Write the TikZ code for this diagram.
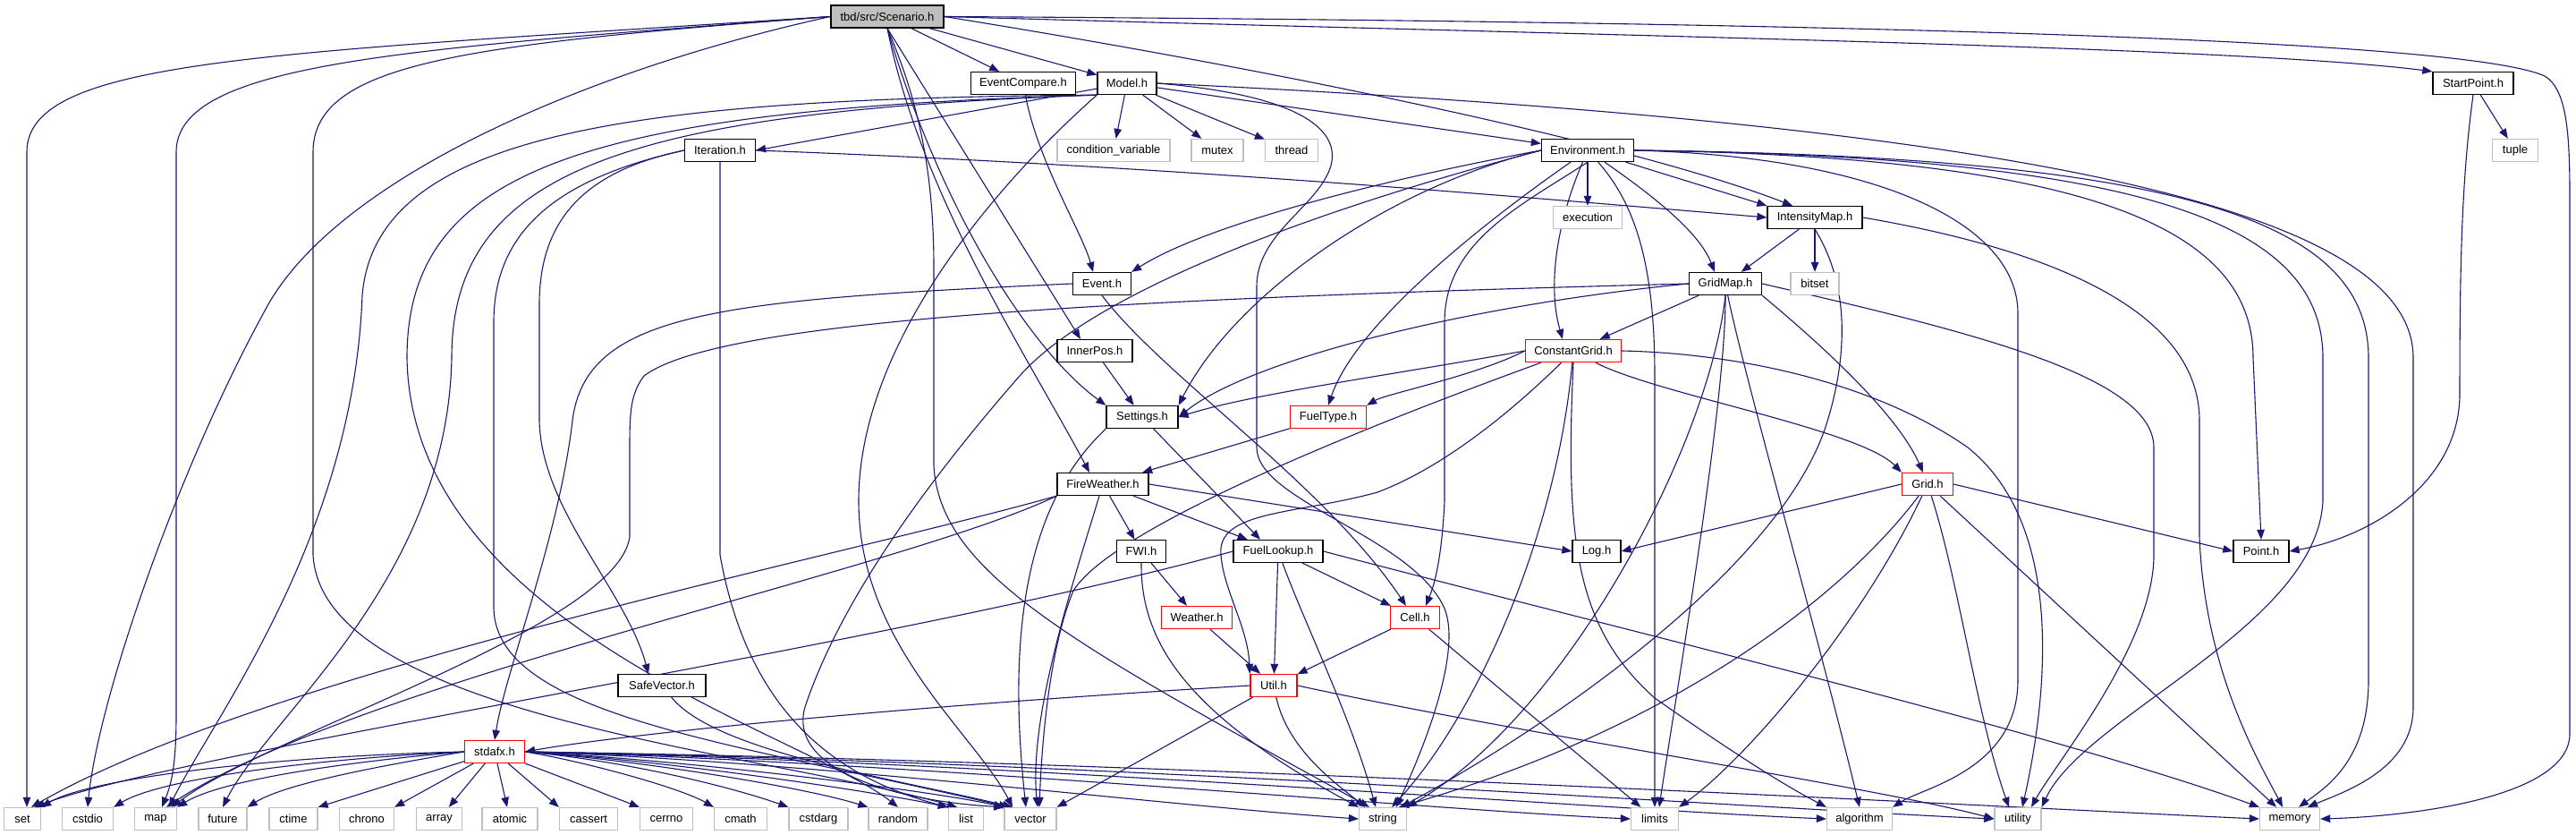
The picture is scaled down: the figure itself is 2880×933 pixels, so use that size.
\documentclass[tikz,border=0pt]{standalone}
\usepackage{fontspec}
\setmainfont{Liberation Sans}
\usetikzlibrary{arrows.meta}
\definecolor{eb}{HTML}{191970}
\definecolor{gb}{HTML}{BFBFBF}
\newcommand\nfont{\fontsize{13}{15}\selectfont}
\pgfdeclarelayer{edgelayer}
\pgfsetlayers{edgelayer,main}
\begin{document}
\begin{tikzpicture}[x=1pt,y=-1pt,
  nb/.style={draw=black, fill=white, line width=1.3pt, minimum height=25pt, inner sep=0pt, font=\nfont},
  nr/.style={nb, draw=red},
  ng/.style={nb, draw=gb},
  root/.style={nb, fill=gb},
  ed/.style={draw=eb, line width=1.1pt, -{Triangle[length=11pt,width=8.5pt]}}]
% nodes
\node[root, minimum width=126] (S) at (992,18.5) {tbd/src/Scenario.h};
\node[nb, minimum width=117] (EC) at (1144,93) {EventCompare.h};
\node[nb, minimum width=66] (M) at (1260,93) {Model.h};
\node[nb, minimum width=90] (SP) at (2765,93) {StartPoint.h};
\node[nb, minimum width=79] (It) at (805,168) {Iteration.h};
\node[ng, minimum width=126] (cv) at (1245,168) {condition\_variable};
\node[ng, minimum width=58] (mx) at (1361,168) {mutex};
\node[ng, minimum width=59] (th) at (1444,168) {thread};
\node[nb, minimum width=103] (En) at (1775,168) {Environment.h};
\node[ng, minimum width=51] (tu) at (2812,168) {tuple};
\node[ng, minimum width=77] (ex) at (1775,243) {execution};
\node[nb, minimum width=106] (IM) at (2029,243) {IntensityMap.h};
\node[nb, minimum width=65] (Ev) at (1232,317) {Event.h};
\node[nb, minimum width=81] (GM) at (1929,317) {GridMap.h};
\node[ng, minimum width=54] (bs) at (2029,317) {bitset};
\node[nb, minimum width=84] (IP) at (1224,392) {InnerPos.h};
\node[nr, minimum width=107] (CG) at (1759,392) {ConstantGrid.h};
\node[nb, minimum width=80] (St) at (1277,466) {Settings.h};
\node[nr, minimum width=85] (FT) at (1485,466) {FuelType.h};
\node[nb, minimum width=102] (FW) at (1233,541) {FireWeather.h};
\node[nr, minimum width=57] (Gr) at (2155,541) {Grid.h};
\node[nb, minimum width=55] (FWI) at (1276,616) {FWI.h};
\node[nb, minimum width=100] (FL) at (1429,616) {FuelLookup.h};
\node[nb, minimum width=54] (Lg) at (1785,616) {Log.h};
\node[nb, minimum width=62] (Pt) at (2528,616) {Point.h};
\node[nr, minimum width=79] (We) at (1338,690) {Weather.h};
\node[nr, minimum width=55] (Ce) at (1582,690) {Cell.h};
\node[nb, minimum width=98] (SV) at (740,766) {SafeVector.h};
\node[nr, minimum width=52] (Ut) at (1424,766) {Util.h};
\node[nr, minimum width=67] (sx) at (553,840) {stdafx.h};
\node[ng, minimum width=41] (nset) at (25,915) {set};
\node[ng, minimum width=57] (ncstdio) at (98,915) {cstdio};
\node[ng, minimum width=47] (nmap) at (174,915) {map};
\node[ng, minimum width=54] (nfut) at (249,915) {future};
\node[ng, minimum width=54] (nctime) at (328,915) {ctime};
\node[ng, minimum width=61] (nchrono) at (410,915) {chrono};
\node[ng, minimum width=51] (narray) at (491,915) {array};
\node[ng, minimum width=62] (natomic) at (570,915) {atomic};
\node[ng, minimum width=65] (ncassert) at (658,915) {cassert};
\node[ng, minimum width=59] (ncerrno) at (745,915) {cerrno};
\node[ng, minimum width=59] (ncmath) at (828,915) {cmath};
\node[ng, minimum width=66] (ncstdarg) at (915,915) {cstdarg};
\node[ng, minimum width=66] (nrnd) at (1004,915) {random};
\node[ng, minimum width=39] (nlist) at (1080,915) {list};
\node[ng, minimum width=58] (nvec) at (1152,915) {vector};
\node[ng, minimum width=53] (nstring) at (1546,915) {string};
\node[ng, minimum width=53] (nlim) at (1850,915) {limits};
\node[ng, minimum width=73] (nalg) at (2079,915) {algorithm};
\node[ng, minimum width=52] (nutil) at (2256,915) {utility};
\node[ng, minimum width=67] (nmem) at (2560,915) {memory};
\begin{pgfonlayer}{edgelayer}
\useasboundingbox[fill=white] (0,0) rectangle (2880,933);
% Scenario
\draw[ed] (S) -- (EC);
\draw[ed] (S) -- (M);
\draw[ed] (S.east) .. controls (1800,40) and (2500,52) .. (SP.north west);
\draw[ed] (S.east) .. controls (2000,24) and (2750,42) .. (2845,85) .. controls (2870,100) and (2873,150) .. (2873,220) -- (2873,820) .. controls (2873,890) and (2700,912) .. (nmem.east);
\draw[ed] (S.east) .. controls (1500,90) and (1850,170) .. ([xshift=-25]IM.north);
\draw[ed] (S.west) .. controls (300,60) and (30,65) .. (30,170) -- ([xshift=5]nset.north);
\draw[ed] (S.west) .. controls (450,55) and (197,70) .. (197,170) -- (197,800) .. controls (197,860) and (190,880) .. ([xshift=7]nmap.north);
\draw[ed] (S.west) .. controls (650,80) and (380,200) .. (300,340) .. controls (200,520) and (110,780) .. (ncstdio.north);
\draw[ed] (S.west) .. controls (520,50) and (350,70) .. (350,170) -- (350,620) .. controls (360,800) and (850,840) .. ([xshift=-10]nlist.north);
\draw[ed] (S.south) .. controls (1030,120) and (1044,200) .. (1044,300) -- (1044,520) .. controls (1050,640) and (1200,720) .. ([xshift=-15]nstring.north);
\draw[ed] (S.south) .. controls (1050,230) and (1150,390) .. (St.north west);
\draw[ed] (S.south) .. controls (1030,220) and (1150,400) .. ([xshift=-15]FW.north);
\draw[ed] (S.south) -- ([xshift=-16]IP.north);
% EventCompare
\draw[ed] (EC) .. controls (1160,180) and (1210,260) .. ([xshift=-10]Ev.north);
% Model
\draw[ed] (M) -- (It.east);
\draw[ed] (M) -- (cv);
\draw[ed] (M) -- (mx);
\draw[ed] (M) -- (th);
\draw[ed] (M) -- (En);
\draw[ed] (M.east) .. controls (2300,140) and (2698,240) .. (2698,400) -- (2698,790) .. controls (2698,860) and (2620,885) .. ([xshift=20]nmem.north);
\draw[ed] (M.east) .. controls (1440,105) and (1500,140) .. (1488,185) .. controls (1475,230) and (1405,260) .. (1405,320) -- (1405,500) .. controls (1405,560) and (1580,600) .. (1615,680) .. controls (1635,730) and (1590,840) .. ([xshift=15]nstring.north);
\draw[ed] (M.south west) .. controls (1120,200) and (960,380) .. (960,560) .. controls (960,720) and (1090,820) .. ([xshift=-20]nvec.north);
\draw[ed] (M.south west) .. controls (700,110) and (420,150) .. (405,330) .. controls (395,600) and (240,800) .. ([xshift=15]nmap.north);
\draw[ed] (M.south west) .. controls (700,125) and (505,190) .. (505,400) .. controls (500,650) and (300,800) .. (nfut.north);
\draw[ed] (M.south west) .. controls (650,123) and (455,190) .. (455,400) .. controls (460,700) and (900,820) .. (nrnd.north);
% Iteration
\draw[ed] (It.east) .. controls (1300,185) and (1700,220) .. (IM.west);
\draw[ed] (It.west) .. controls (660,190) and (603,240) .. (603,340) -- (603,470) .. controls (605,570) and (700,660) .. ([xshift=-15]SV.north);
\draw[ed] (It.west) .. controls (620,200) and (552,260) .. (552,360) -- (552,680) .. controls (555,800) and (820,830) .. ([xshift=-24]nvec.north);
\draw[ed] (It.south) -- (805,620) .. controls (830,760) and (900,860) .. (nlist.north west);
% SafeVector
\draw[ed] (SV) .. controls (800,840) and (1000,870) .. ([xshift=-20]nvec.north);
% Event
\draw[ed] (Ev.west) .. controls (800,335) and (655,350) .. (640,470) .. controls (625,600) and (565,750) .. (sx.north);
\draw[ed] (Ev.south) .. controls (1300,420) and (1480,540) .. ([xshift=-10]Ce.north);
% InnerPos, Settings, FuelType
\draw[ed] (IP) -- (St);
\draw[ed] (St) -- ([xshift=-20]FL.north);
\draw[ed] (St.south west) .. controls (1150,560) and (1125,700) .. ([xshift=-5]nvec.north);
\draw[ed] (FT) -- (FW);
% FireWeather
\draw[ed] (FW.south west) .. controls (950,620) and (300,750) .. ([xshift=10]nset.north);
\draw[ed] (FW.south west) .. controls (1000,640) and (400,760) .. ([xshift=12]nmap.north);
\draw[ed] (FW) .. controls (1200,650) and (1150,800) .. ([xshift=8]nvec.north);
\draw[ed] (FW) -- (FWI);
\draw[ed] (FW) -- (FL);
\draw[ed] (FW.east) -- (Lg.west);
% FWI
\draw[ed] (FWI) -- (We);
\draw[ed] (FWI.south) .. controls (1275,720) and (1330,800) .. (nstring.north west);
% FuelLookup
\draw[ed] (FL.west) .. controls (1000,720) and (200,840) .. ([xshift=14]nset.north);
\draw[ed] (FL) -- (Ut);
\draw[ed] (FL) .. controls (1460,700) and (1510,800) .. ([xshift=-8]nstring.north);
\draw[ed] (FL) -- (Ce);
\draw[ed] (FL.east) .. controls (1800,700) and (2300,820) .. (nmem.north west);
% Weather, Cell
\draw[ed] (We) -- (Ut);
\draw[ed] (Ce) -- (Ut);
\draw[ed] (Ce) -- (nlim);
% Util
\draw[ed] (Ut.west) .. controls (1000,790) and (700,820) .. (sx.east);
\draw[ed] (Ut) -- (nvec.north east);
\draw[ed] (Ut) .. controls (1440,840) and (1500,880) .. ([xshift=-20]nstring.north);
\draw[ed] (Ut.east) .. controls (1700,820) and (2100,880) .. (nutil.west);
% Grid
\draw[ed] (Gr.west) -- (Lg.east);
\draw[ed] (Gr.east) -- (Pt.west);
\draw[ed] (Gr) .. controls (2050,680) and (1850,820) .. ([xshift=18]nstring.north);
\draw[ed] (Gr) .. controls (2080,700) and (1950,850) .. (nlim.north east);
\draw[ed] (Gr) .. controls (2190,650) and (2210,800) .. ([xshift=-10]nutil.north);
\draw[ed] (Gr) -- ([xshift=-15]nmem.north);
% GridMap
\draw[ed] (GM) -- (CG);
\draw[ed] (GM.south east) .. controls (2030,380) and (2120,460) .. ([xshift=-5]Gr.north);
\draw[ed] (GM.west) .. controls (1650,340) and (1400,400) .. (St.east);
\draw[ed] (GM.west) .. controls (1200,335) and (800,360) .. (720,420) .. controls (705,440) and (704,460) .. (704,500) -- (704,600) .. controls (690,700) and (300,820) .. ([xshift=18]nmap.north);
\draw[ed] (GM.south) .. controls (1910,500) and (1750,800) .. (nstring.north east);
\draw[ed] (GM.south) .. controls (1930,450) and (1870,800) .. ([xshift=5]nlim.north);
\draw[ed] (GM) .. controls (1950,420) and (2030,700) .. (nalg.north);
\draw[ed] (GM.east) .. controls (2200,370) and (2408,420) .. (2408,500) -- (2408,620) .. controls (2408,720) and (2300,850) .. ([xshift=15]nutil.north);
% IntensityMap
\draw[ed] (IM) -- (GM);
\draw[ed] (IM) -- (bs);
\draw[ed] (IM.south) .. controls (2075,330) and (2060,420) .. (2040,480) .. controls (1980,650) and (1700,830) .. ([xshift=20]nstring.north);
\draw[ed] (IM.east) .. controls (2300,280) and (2459,350) .. (2459,470) -- (2459,600) .. controls (2465,750) and (2525,850) .. ([xshift=-8]nmem.north);
% ConstantGrid
\draw[ed] (CG.west) .. controls (1550,420) and (1400,440) .. (St.east);
\draw[ed] (CG.west) .. controls (1650,420) and (1550,440) .. (FT.north east);
\draw[ed] (CG) .. controls (1600,450) and (1250,580) .. (1200,660) .. controls (1175,720) and (1165,820) .. ([xshift=10]nvec.north);
\draw[ed] (CG) .. controls (1700,450) and (1620,520) .. (1540,550) .. controls (1450,575) and (1360,570) .. (1365,620) .. controls (1368,660) and (1395,700) .. (Ut.north west);
\draw[ed] (CG) .. controls (1740,600) and (1650,800) .. ([xshift=10]nstring.north);
\draw[ed] (CG.south) .. controls (1750,600) and (1760,700) .. (1850,780) .. controls (1950,850) and (2000,880) .. (nalg.north west);
\draw[ed] (CG) .. controls (1850,440) and (2080,480) .. (Gr.north west);
\draw[ed] (CG.east) .. controls (1950,395) and (2100,430) .. (2200,500) .. controls (2300,580) and (2295,750) .. ([xshift=5]nutil.north);
% Environment
\draw[ed] (En.west) .. controls (1550,200) and (1350,250) .. (Ev.north east);
\draw[ed] (En.west) .. controls (1550,210) and (1380,330) .. (St.north east);
\draw[ed] (En) .. controls (1700,220) and (1520,350) .. (FT.north);
\draw[ed] (En) .. controls (1740,250) and (1730,320) .. ([xshift=-12]CG.north);
\draw[ed] (En) -- (ex);
\draw[ed] (En) .. controls (1850,220) and (1900,260) .. ([xshift=-12]GM.north);
\draw[ed] (En) -- (IM.north west);
\draw[ed] (En) .. controls (1830,230) and (1850,300) .. (1850,420) -- (nlim.north);
\draw[ed] (En.south) .. controls (1700,230) and (1615,270) .. (1615,360) -- (1615,560) .. controls (1612,620) and (1605,650) .. ([xshift=12]Ce.north);
\draw[ed] (En.west) .. controls (1450,240) and (1220,330) .. (1140,420) .. controls (1000,580) and (930,700) .. (900,790) .. controls (880,860) and (1000,895) .. (nvec.north west);
\draw[ed] (En.east) .. controls (2100,175) and (2256,250) .. (2256,350) -- (2256,760) .. controls (2256,860) and (2150,880) .. (nalg.north east);
\draw[ed] (En.east) .. controls (2350,175) and (2519,260) .. (2519,400) -- (Pt.north);
\draw[ed] (En.east) .. controls (2400,175) and (2597,250) .. (2597,400) -- (2597,560) .. controls (2590,700) and (2330,800) .. (nutil.north east);
\draw[ed] (En.east) .. controls (2450,175) and (2648,250) .. (2648,400) -- (2648,760) .. controls (2648,850) and (2600,880) .. ([xshift=10]nmem.north);
% StartPoint
\draw[ed] (SP) -- (tu);
\draw[ed] (SP.south) .. controls (2752,200) and (2750,300) .. (2750,440) .. controls (2750,540) and (2650,600) .. (Pt.east);
% stdafx
\draw[ed] (sx.west) .. controls (300,845) and (100,870) .. (nset.north east);
\draw[ed] (sx.west) .. controls (350,848) and (180,870) .. (ncstdio.north east);
\draw[ed] (sx.west) .. controls (400,850) and (250,870) .. (nmap.north east);
\draw[ed] (sx.west) .. controls (430,855) and (320,875) .. (nfut.north east);
\draw[ed] (sx) -- (nctime.north east);
\draw[ed] (sx) -- (nchrono.north east);
\draw[ed] (sx) -- (narray);
\draw[ed] (sx) -- (natomic);
\draw[ed] (sx) -- (ncassert.north west);
\draw[ed] (sx) -- (ncerrno.north west);
\draw[ed] (sx.east) .. controls (650,850) and (760,880) .. (ncmath.north west);
\draw[ed] (sx.east) .. controls (700,850) and (820,880) .. (ncstdarg.north west);
\draw[ed] (sx.east) .. controls (720,850) and (900,880) .. (nrnd.north west);
\draw[ed] (sx.east) .. controls (750,850) and (980,885) .. (nlist.north west);
\draw[ed] (sx.east) .. controls (780,850) and (1050,885) .. (nvec.north west);
\draw[ed] (sx.east) .. controls (900,850) and (1300,900) .. (nstring.west);
\draw[ed] (sx.east) .. controls (1000,850) and (1600,905) .. (nlim.west);
\draw[ed] (sx.east) .. controls (1100,850) and (1800,905) .. (nalg.west);
\draw[ed] (sx.east) .. controls (1200,850) and (2000,905) .. (nutil.west);
\draw[ed] (sx.east) .. controls (1300,850) and (2300,905) .. (nmem.west);
\end{pgfonlayer}
\end{tikzpicture}
\end{document}
